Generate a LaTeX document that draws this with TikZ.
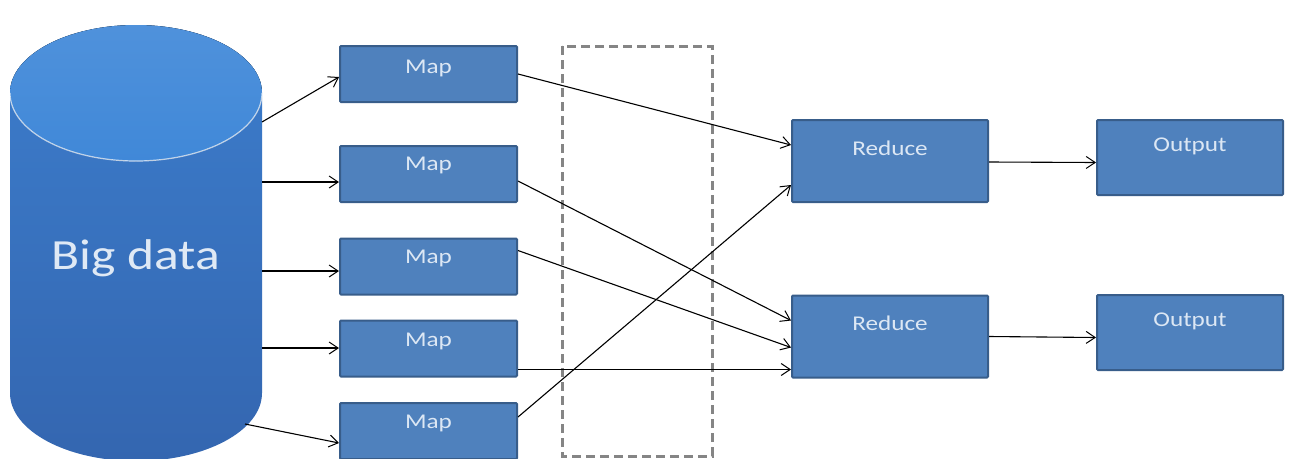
\documentclass[tikz,border=0pt]{standalone}
\usepackage{fontspec}
\usetikzlibrary{arrows.meta}
\newfontfamily\lblfont[FakeStretch=1.2]{Carlito}
\definecolor{boxfill}{HTML}{4F81BD}
\definecolor{boxedge}{HTML}{385D8A}
\definecolor{boxtext}{HTML}{DCE7F4}
\definecolor{cyltop}{HTML}{4088D8}
\definecolor{cylmid}{HTML}{3C7DCC}
\definecolor{cylbot}{HTML}{3466B0}
\definecolor{dashgray}{HTML}{858585}
\begin{document}
\begin{tikzpicture}[x=1pt,y=-1pt,
  blockbox/.style={draw=boxedge,line width=2pt,fill=boxfill,rounded corners=1pt,inner sep=0pt},
  mapbox/.style={blockbox,minimum width=177pt,minimum height=56pt},
  redbox/.style={blockbox,minimum width=196pt,minimum height=82pt},
  outbox/.style={blockbox,minimum width=186pt,minimum height=75pt},
  lbl/.style={text=boxtext,font=\lblfont\fontsize{21}{24}\selectfont,inner sep=0pt},
  arr/.style={line width=1.1pt,-{Straight Barb[length=9pt,width=12pt,line width=1pt]}},
  shuffle/.style={draw=dashgray,line width=3pt,dash pattern=on 9pt off 5pt}
]
\useasboundingbox (0,0) rectangle (1289,458);
\fill[white] (0,0) rectangle (1289,458);

% ---- storage cylinder ----
\path[top color=cylmid,bottom color=cylbot]
  (10,93) -- (10,393) arc[start angle=180,end angle=0,x radius=126,y radius=68]
  -- (262,93) arc[start angle=0,end angle=-180,x radius=126,y radius=68] -- cycle;
\fill[top color=cyltop!92!white,bottom color=cyltop] (136,93) ellipse[x radius=126,y radius=68];
\draw[white,opacity=0.7,line width=1.2pt] (10,93) arc[start angle=180,end angle=0,x radius=126,y radius=68];
\node[text=boxtext!90!white,font=\lblfont\fontsize{43}{48}\selectfont,inner sep=0pt] (bigdata) at (136,258) {Big data};

% ports on the cylinder surface
\coordinate (c1) at (262,122);
\coordinate (c2) at (262,182);
\coordinate (c3) at (262,271);
\coordinate (c4) at (262,348);
\coordinate (c5) at (245,424);

% ---- shuffle region ----
\draw[shuffle] (562,46) rectangle (712,456);

% ---- map tasks ----
\node[mapbox] (m1) at (428.5,74) {};
\node[mapbox] (m2) at (428.5,174) {};
\node[mapbox] (m3) at (428.5,266.5) {};
\node[mapbox] (m4) at (428.5,348.5) {};
\node[mapbox] (m5) at (428.5,431) {};
\node[lbl] (m1t) at (428.5,68) {Map};
\node[lbl] (m2t) at (428.5,165) {Map};
\node[lbl] (m3t) at (428.5,258) {Map};
\node[lbl] (m4t) at (428.5,341) {Map};
\node[lbl] (m5t) at (428.5,423) {Map};

% ---- reduce tasks ----
\node[redbox] (r1) at (890,161) {};
\node[redbox] (r2) at (890,336.5) {};
\node[lbl] (r1t) at (890,148) {Reduce};
\node[lbl] (r2t) at (890,323) {Reduce};

% ---- outputs ----
\node[outbox] (o1) at (1190,157.5) {};
\node[outbox] (o2) at (1190,332.5) {};
\node[lbl] (o1t) at (1190,146) {Output};
\node[lbl] (o2t) at (1190,321) {Output};

% ---- input splits ----
\draw[arr] (c1) -- ([yshift=-3pt]m1.west);
\draw[arr] (c2) -- (c2 -| m2.west);
\draw[arr] (c3) -- (c3 -| m3.west);
\draw[arr] (c4) -- (c4 -| m4.west);
\draw[arr] (c5) -- ([yshift=-12pt]m5.west);

% ---- shuffle connections ----
\coordinate (m4o) at ([yshift=-21pt]m4.east);
\draw[arr] (m1.east) -- ([yshift=16pt]r1.west);
\draw[arr] ([yshift=-7pt]m2.east) -- ([yshift=16pt]r2.west);
\draw[arr] ([yshift=16pt]m3.east) -- ([yshift=-11pt]r2.west);
\draw[arr] (m4o) -- (m4o -| r2.west);
\draw[arr] ([yshift=14pt]m5.east) -- ([yshift=-24pt]r1.west);

% ---- results ----
\draw[arr] ([yshift=-1pt]r1.east) -- ([yshift=-5pt]o1.west);
\draw[arr] (r2.east) -- ([yshift=-5pt]o2.west);
\end{tikzpicture}
\end{document}
